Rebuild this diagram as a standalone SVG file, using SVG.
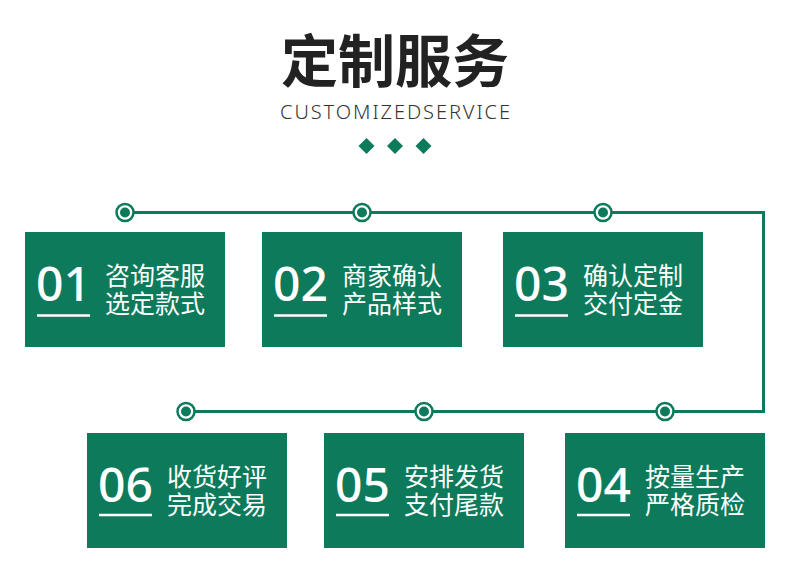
<svg xmlns="http://www.w3.org/2000/svg" width="790" height="575" viewBox="0 0 790 575">
<style>
.box{fill:#0d7a5b}
.num{font-family:"Noto Sans","Open Sans",sans-serif;font-size:48px;font-weight:500;fill:#fff}
.cn{font-family:"Noto Sans CJK SC","Noto Sans",sans-serif;font-size:25px;fill:#fff}
.ul{stroke:#fff;stroke-width:2.5}
.line{fill:none;stroke:#0d7a5b;stroke-width:3}
.ring{fill:#fff;stroke:#0d7a5b;stroke-width:2.5}
.dot{fill:#0d7a5b}
</style>
<defs>
<g id="pin"><circle class="ring" r="8.5"/><circle class="dot" r="5"/></g>
</defs>
<rect width="790" height="575" fill="#fff"/>
<g id="title">
<text x="395" y="82" text-anchor="middle" font-family="Noto Sans CJK SC, sans-serif" font-weight="bold" font-size="57" fill="#222">定制服务</text>
<text x="395" y="119" text-anchor="middle" font-family="Noto Sans, sans-serif" font-weight="300" font-size="20" fill="#333" textLength="230" lengthAdjust="spacing">CUSTOMIZEDSERVICE</text>
<g fill="#0d7a5b">
<path d="M366.5 138l8 8-8 8-8-8z"/>
<path d="M395 138l8 8-8 8-8-8z"/>
<path d="M423.5 138l8 8-8 8-8-8z"/>
</g>
</g>
<g id="connectors">
<path class="line" d="M125 212.5H763.5V411.5H186"/>
<use href="#pin" x="125" y="212.5"/>
<use href="#pin" x="362" y="212.5"/>
<use href="#pin" x="603" y="212.5"/>
<use href="#pin" x="186" y="411.5"/>
<use href="#pin" x="424" y="411.5"/>
<use href="#pin" x="665" y="411.5"/>
</g>
<g id="node-01" transform="translate(25,232)">
<rect class="box" width="200" height="115"/>
<text class="num" x="11" y="69">01</text>
<line class="ul" x1="12" y1="83.5" x2="65" y2="83.5"/>
<text class="cn" x="80" y="53">咨询客服</text>
<text class="cn" x="80" y="81">选定款式</text>
</g>
<g id="node-02" transform="translate(262,232)">
<rect class="box" width="200" height="115"/>
<text class="num" x="11" y="69">02</text>
<line class="ul" x1="12" y1="83.5" x2="65" y2="83.5"/>
<text class="cn" x="80" y="53">商家确认</text>
<text class="cn" x="80" y="81">产品样式</text>
</g>
<g id="node-03" transform="translate(503,232)">
<rect class="box" width="200" height="115"/>
<text class="num" x="11" y="69">03</text>
<line class="ul" x1="12" y1="83.5" x2="65" y2="83.5"/>
<text class="cn" x="80" y="53">确认定制</text>
<text class="cn" x="80" y="81">交付定金</text>
</g>
<g id="node-04" transform="translate(565,433)">
<rect class="box" width="200" height="115"/>
<text class="num" x="11" y="69">04</text>
<line class="ul" x1="12" y1="82" x2="65" y2="82"/>
<text class="cn" x="80" y="53">按量生产</text>
<text class="cn" x="80" y="81">严格质检</text>
</g>
<g id="node-05" transform="translate(324,433)">
<rect class="box" width="200" height="115"/>
<text class="num" x="11" y="69">05</text>
<line class="ul" x1="12" y1="82" x2="65" y2="82"/>
<text class="cn" x="80" y="53">安排发货</text>
<text class="cn" x="80" y="81">支付尾款</text>
</g>
<g id="node-06" transform="translate(87,433)">
<rect class="box" width="200" height="115"/>
<text class="num" x="11" y="69">06</text>
<line class="ul" x1="12" y1="82" x2="65" y2="82"/>
<text class="cn" x="80" y="53">收货好评</text>
<text class="cn" x="80" y="81">完成交易</text>
</g>
</svg>
